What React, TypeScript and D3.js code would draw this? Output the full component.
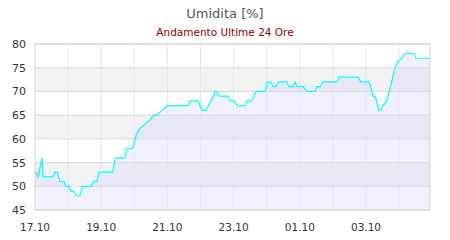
import React from "react";
import * as d3 from "d3";

const title = "Umidita [%]";
const subtitle = "Andamento Ultime 24 Ore";
const yTicks = [45, 50, 55, 60, 65, 70, 75, 80];
const xTickLabels = ["17.10", "19.10", "21.10", "23.10", "01.10", "03.10"];
const xTickHours = [0, 48, 96, 144, 192, 240];
const dayGridHours = [24, 48, 72, 96, 120, 144, 168, 192, 216, 240, 264];
// hours since start of 17.10
const hours = [
  0, 0.7, 2.2, 4.4, 5.1, 5.8, 12.8, 14.3, 16.2, 18.1, 21.2, 22.3, 24.9, 26.1, 28.3, 29.9, 32.6, 34.3,
  40.6, 42.3, 44.7, 46.4, 56.3, 58.2, 65.0, 66.5, 70.6, 72.0, 73.5, 75.6, 79.3, 83.4, 85.8, 88.7, 91.9,
  96.2, 111.2, 112.4, 118.4, 120.9, 124.0, 125.7, 129.3, 130.5, 131.7, 133.6, 140.2, 141.4, 144.3,
  146.7, 152.3, 153.9, 157.1, 160.2, 166.8, 168.7, 170.9, 172.8, 174.7, 176.7, 182.5, 184.2, 186.9,
  188.5, 190.2, 194.5, 197.0, 203.0, 204.3, 206.7, 208.6, 218.8, 220.7, 234.4, 236.2, 242.2, 243.4,
  244.9, 246.5, 247.8, 249.2, 250.7, 252.5, 255.0, 256.9, 258.6, 259.8, 261.0, 263.4, 265.9, 268.3,
  274.8, 276.3, 286.4,
];
const humidity = [
  53, 53, 52, 55, 56, 52, 52, 53, 53, 51, 51, 50, 50, 49, 49, 48, 48, 50,
  50, 51, 51, 53, 53, 56, 56, 58, 58, 59, 61, 62, 63, 64, 65, 65, 66,
  67, 67, 68, 68, 66, 66, 67, 69, 70, 70, 69, 69, 68, 68,
  67, 67, 68, 68, 70, 70, 72, 72, 71, 71, 72, 72, 71, 71,
  72, 71, 71, 70, 70, 71, 71, 72, 72, 73, 73, 72, 72, 71,
  69, 69, 68, 66, 66, 67, 68, 70, 72, 73.5, 75, 76.4, 77, 78,
  78, 77, 77,
];

const W = 450;
const H = 240;
const left = 35;
const right = 430;
const top = 44;
const bottom = 210;

export default function App() {
  const x = d3.scaleLinear().domain([0, hours[hours.length - 1]]).range([left, right]);
  const y = d3.scaleLinear().domain([45, 80]).range([bottom, top]);
  const pts = hours.map((h, i) => [h, humidity[i]] as [number, number]);
  const line = d3.line<[number, number]>().x((d) => x(d[0])).y((d) => y(d[1]));
  const area = d3
    .area<[number, number]>()
    .x((d) => x(d[0]))
    .y0(y(45))
    .y1((d) => y(d[1]));
  const font = "'DejaVu Sans', Verdana, sans-serif";
  const bands = yTicks.slice(0, -1).map((v, i) => ({ lo: v, hi: yTicks[i + 1], gray: i % 2 === 1 }));
  return (
    <svg width={W} height={H} style={{ position: "absolute", left: 0, top: 0 }} fontFamily={font}>
      <rect x={0} y={0} width={W} height={H} fill="#fff" />
      <text x={225} y={18} textAnchor="middle" fontSize={13} fill="#555">{title}</text>
      <text x={225} y={36} textAnchor="middle" fontSize={10.5} fill="#8b0000">{subtitle}</text>
      {bands.map((b, i) => (
        <rect key={i} x={left} y={y(b.hi)} width={right - left} height={y(b.lo) - y(b.hi)} fill={b.gray ? "#f2f2f2" : "#ffffff"} />
      ))}
      <path d={area(pts) || ""} fill="#ccccff" fillOpacity={0.3} />
      {dayGridHours.map((h) => (
        <line key={h} x1={x(h)} x2={x(h)} y1={top} y2={bottom} stroke="#e4e4fa" strokeWidth={1} />
      ))}
      {yTicks.map((v) => (
        <line key={v} x1={left} x2={right} y1={y(v)} y2={y(v)} stroke="#dadada" strokeWidth={1} />
      ))}
      <path d={line(pts) || ""} fill="none" stroke="#00ffff" strokeWidth={1.2} />
      <rect x={left} y={top} width={right - left} height={bottom - top} fill="none" stroke="#d4d4d4" strokeWidth={1} />
      {yTicks.map((v) => (
        <text key={v} x={26} y={y(v) + 4} textAnchor="end" fontSize={11} fill="#333">{v}</text>
      ))}
      {xTickLabels.map((t, i) => (
        <text key={t} x={x(xTickHours[i])} y={231} textAnchor="middle" fontSize={10.5} fill="#333">{t}</text>
      ))}
    </svg>
  );
}
